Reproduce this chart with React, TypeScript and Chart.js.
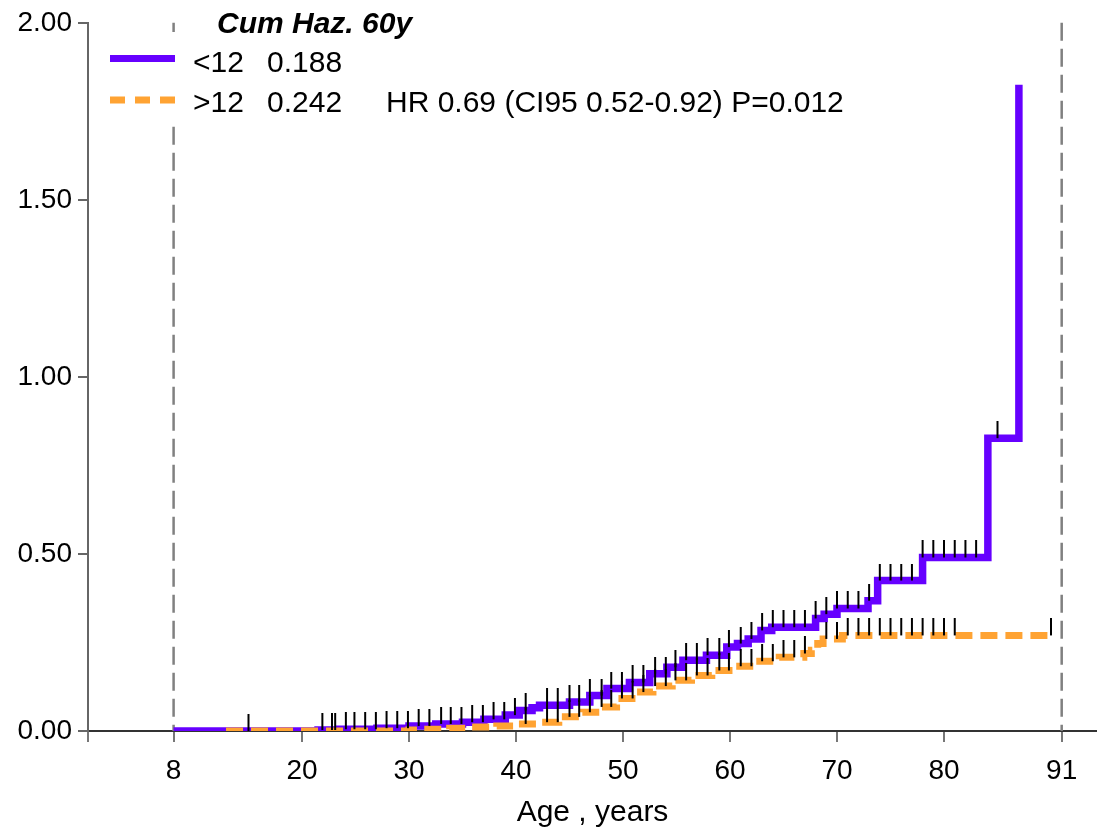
import React, { useEffect, useRef } from 'react';
import { Chart, registerables } from 'chart.js';

Chart.register(...registerables);

const FONT = '"Liberation Sans", Arial, Helvetica, sans-serif';

// <12 group: cumulative hazard step curve
const lowAges = [8, 21.5, 23.5, 27, 30, 32.5, 35, 37, 39, 40.3, 41.5, 42.2, 45, 46.9, 48.5, 50.6, 52.5, 54.1, 55.6, 57.8, 59.7, 60.7, 61.7, 62.9, 63.9, 68, 68.8, 70, 72.9, 73.8, 78, 84.1, 87];
const lowHaz = [0, 0.003, 0.005, 0.008, 0.014, 0.02, 0.025, 0.033, 0.045, 0.058, 0.066, 0.073, 0.082, 0.1, 0.12, 0.137, 0.162, 0.18, 0.2, 0.214, 0.237, 0.247, 0.26, 0.284, 0.293, 0.318, 0.33, 0.346, 0.368, 0.425, 0.49, 0.827, 1.825];

// >12 group
const highAges = [12.9, 30, 31.2, 33.8, 35.9, 38.2, 40, 41.9, 44, 46.2, 47.8, 49.4, 51.3, 52.8, 54.6, 56.4, 58.3, 60.3, 62.3, 64.6, 66.9, 67.6, 68.2, 68.7, 70.5, 90];
const highHaz = [0, 0.003, 0.005, 0.008, 0.011, 0.014, 0.02, 0.025, 0.04, 0.053, 0.068, 0.092, 0.11, 0.127, 0.143, 0.157, 0.171, 0.183, 0.197, 0.208, 0.219, 0.228, 0.247, 0.26, 0.27, 0.27];

// censoring marks
const lowCensor = [21.9, 22.8, 23.1, 24.1, 24.9, 25.9, 26.9, 27.9, 28.9, 29.9, 30.9, 31.9, 33, 33.9, 34.9, 35.9, 36.9, 37.9, 38.9, 39.9, 40.9, 42.9, 43.9, 45, 45.9, 46.9, 48, 48.9, 49.9, 50.9, 51.9, 53, 54, 54.9, 55.9, 56.9, 57.9, 59, 59.9, 61, 62, 63, 64, 65, 66, 67, 68, 69, 70, 71, 72, 73, 74, 75, 76, 77, 78, 79, 80, 81, 82, 83, 85];
const highCensor = [15, 40.9, 42.9, 43.9, 45, 45.9, 46.9, 48, 48.9, 49.9, 50.9, 51.9, 53, 54, 54.9, 55.9, 56.9, 57.9, 59, 59.9, 61, 62, 63, 64, 65, 66, 67, 69, 70, 71, 72, 73, 74, 75, 76, 77, 78, 79, 80, 81, 90];

const xTickValues = [0, 8, 20, 30, 40, 50, 60, 70, 80, 91];
const refLines = [8, 91];

const legendTitle = 'Cum Haz. 60y';
const legendRows = [
  { label: '<12', value: '0.188', extra: '' },
  { label: '>12', value: '0.242', extra: 'HR 0.69 (CI95 0.52-0.92) P=0.012' },
];

const PURPLE = 'rgb(102,0,255)';
const ORANGE = 'rgb(255,163,51)';

function stepAt(ages: number[], haz: number[], t: number) {
  let v = haz[0];
  for (let i = 0; i < ages.length; i++) if (ages[i] <= t) v = haz[i];
  return v;
}

export default function App() {
  const ref = useRef<HTMLCanvasElement>(null);
  useEffect(() => {
    const canvas = ref.current!;
    const mark = document.createElement('canvas');
    mark.width = 4;
    mark.height = 34;
    const mctx = mark.getContext('2d')!;
    mctx.strokeStyle = '#000';
    mctx.lineWidth = 2;
    mctx.beginPath();
    mctx.moveTo(2, 0);
    mctx.lineTo(2, 17);
    mctx.stroke();

    const refPlugin = {
      id: 'refLines',
      beforeDatasetsDraw(chart: any) {
        const { ctx, chartArea, scales } = chart;
        ctx.save();
        ctx.strokeStyle = '#808080';
        ctx.lineWidth = 2.5;
        ctx.setLineDash([18, 8]);
        refLines.forEach((v) => {
          const x = scales.x.getPixelForValue(v);
          ctx.beginPath();
          ctx.moveTo(x, chartArea.top);
          ctx.lineTo(x, chartArea.bottom);
          ctx.stroke();
        });
        ctx.restore();
      },
    };

    const legendPlugin = {
      id: 'customLegend',
      afterDraw(chart: any) {
        const { ctx } = chart;
        ctx.save();
        ctx.fillStyle = '#fff';
        ctx.fillRect(100, 32, 770, 93);
        ctx.fillStyle = '#000';
        ctx.textBaseline = 'alphabetic';
        ctx.textAlign = 'left';
        ctx.font = `italic bold 30px ${FONT}`;
        ctx.fillText(legendTitle, 217, 33);
        ctx.font = `30px ${FONT}`;
        const rowY = [72, 112];
        const lineY = [58.5, 100];
        legendRows.forEach((r, i) => {
          ctx.fillText(r.label, 193, rowY[i]);
          ctx.fillText(r.value, 267, rowY[i]);
          if (r.extra) ctx.fillText(r.extra, 386, rowY[i]);
        });
        ctx.lineWidth = 7;
        ctx.lineCap = 'butt';
        ctx.strokeStyle = PURPLE;
        ctx.beginPath();
        ctx.moveTo(110, lineY[0]);
        ctx.lineTo(175, lineY[0]);
        ctx.stroke();
        ctx.strokeStyle = ORANGE;
        ctx.setLineDash([15, 10]);
        ctx.beginPath();
        ctx.moveTo(110, lineY[1]);
        ctx.lineTo(175, lineY[1]);
        ctx.stroke();
        ctx.restore();
      },
    };

    const chart = new Chart(canvas, {
      type: 'line',
      data: {
        datasets: [
          {
            label: '<12 censored',
            data: lowCensor.map((t) => ({ x: t, y: stepAt(lowAges, lowHaz, t) })),
            showLine: false,
            pointStyle: mark as any,
            pointRadius: 5,
            order: 0,
          },
          {
            label: '>12 censored',
            data: highCensor.map((t) => ({ x: t, y: stepAt(highAges, highHaz, t) })),
            showLine: false,
            pointStyle: mark as any,
            pointRadius: 5,
            order: 0,
          },
          {
            label: '>12',
            data: highAges.map((a, i) => ({ x: a, y: highHaz[i] })),
            borderColor: ORANGE,
            borderWidth: 7,
            borderDash: [17, 8],
            stepped: 'before',
            pointRadius: 0,
            fill: false,
            order: 1,
          },
          {
            label: '<12',
            data: lowAges.map((a, i) => ({ x: a, y: lowHaz[i] })),
            borderColor: PURPLE,
            borderWidth: 7.5,
            stepped: 'before',
            pointRadius: 0,
            fill: false,
            order: 2,
          },
        ] as any,
      },
      options: {
        animation: false,
        responsive: false,
        devicePixelRatio: 1,
        layout: { autoPadding: false, padding: { top: 20, left: 0, right: 0, bottom: 0 } },
        plugins: {
          legend: { display: false },
          tooltip: { enabled: false },
        },
        scales: {
          x: {
            type: 'linear',
            min: 0,
            max: 94.3,
            afterBuildTicks: (s: any) => {
              s.ticks = xTickValues.map((v) => ({ value: v }));
            },
            afterFit: (s: any) => {
              s.height = 98;
            },
            ticks: {
              callback: (v: any) => (Number(v) === 0 ? '' : String(v)),
              font: { family: FONT, size: 28 },
              color: '#000',
              padding: 12,
              maxRotation: 0,
              autoSkip: false,
            },
            grid: { drawOnChartArea: false, drawTicks: true, tickLength: 11, color: '#777', lineWidth: 2 },
            border: { display: true, color: '#333', width: 2 },
            title: {
              display: true,
              text: 'Age , years',
              font: { family: FONT, size: 30, lineHeight: 1 },
              color: '#000',
              padding: { top: 0, bottom: 1 },
            },
          },
          y: {
            type: 'linear',
            min: 0,
            max: 2,
            afterFit: (s: any) => {
              s.width = 88;
            },
            ticks: {
              stepSize: 0.5,
              callback: (v: any) => Number(v).toFixed(2),
              font: { family: FONT, size: 28 },
              color: '#000',
              padding: 6,
            },
            grid: { drawOnChartArea: false, drawTicks: true, tickLength: 10, color: '#666', lineWidth: 2 },
            border: { display: true, color: '#666', width: 2 },
          },
        },
      } as any,
      plugins: [refPlugin, legendPlugin],
    });
    return () => chart.destroy();
  }, []);

  return (
    <div style={{ position: 'absolute', left: 0, top: 0, width: 1097, height: 829, background: '#fff' }}>
      <canvas ref={ref} width={1097} height={829} style={{ display: 'block', width: 1097, height: 829 }} />
    </div>
  );
}
